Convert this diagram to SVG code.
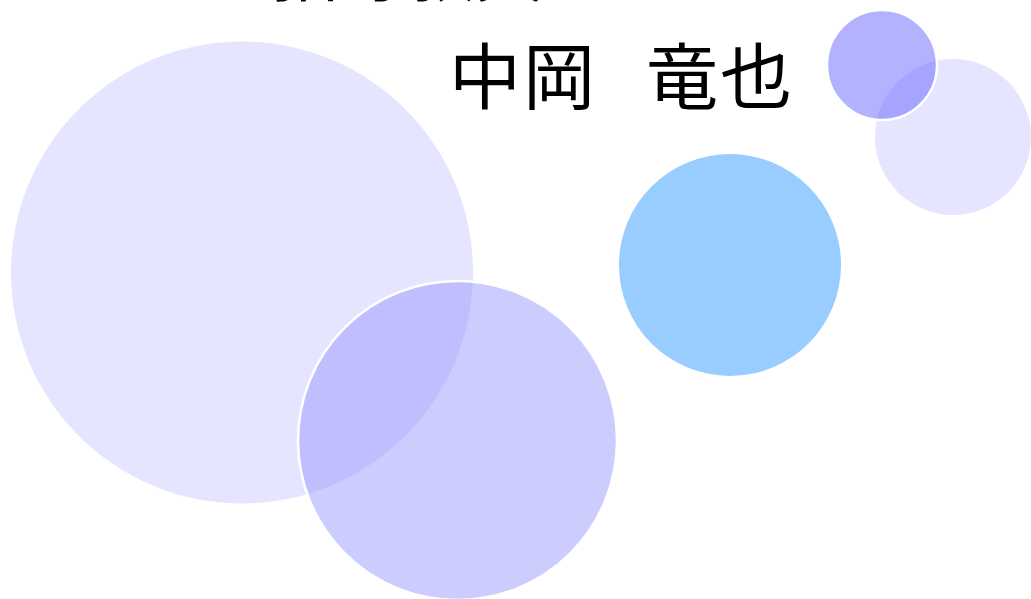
<svg xmlns="http://www.w3.org/2000/svg" width="1031" height="599" viewBox="0 0 1031 599">
<style>
.t{font-family:"Noto Sans CJK JP","Noto Sans CJK SC",sans-serif;fill:#000}
.lav{fill:#9999FF;fill-opacity:0.25}
.mid{fill:#9999FF;fill-opacity:0.5;stroke:#FFFFFF;stroke-width:2.5}
.dark{fill:#6666FF;fill-opacity:0.5;stroke:#FFFFFF;stroke-width:2.5}
.blue{fill:#99CCFF}
</style>
<rect width="1031" height="599" fill="#FFFFFF"/>
<g id="circle-large"><circle class="lav" cx="242" cy="272.5" r="231"/></g>
<g id="circle-lower"><circle class="mid" cx="457.5" cy="440.5" r="159.5"/></g>
<g id="circle-blue"><circle class="blue" cx="730" cy="265" r="111"/></g>
<g id="circle-right"><circle class="lav" cx="953" cy="137" r="78"/></g>
<g id="circle-small"><circle class="dark" cx="882" cy="65" r="55"/></g>
<g id="title-top"><text class="t" font-size="68" x="271" y="-4">指導教員</text></g>
<g id="title-name"><text class="t" font-size="72" y="103" letter-spacing="2"><tspan x="449">中岡</tspan><tspan x="646">竜也</tspan></text></g>
</svg>
